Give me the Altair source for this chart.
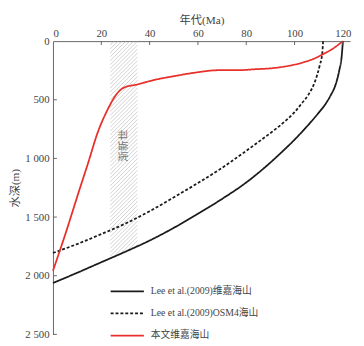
import altair as alt
import numpy as np
import pandas as pd

# ---- data ----
series_names = ["Lee et al.(2009)维嘉海山", "Lee et al.(2009)OSM4海山", "本文维嘉海山"]

black_age = [0, 10, 20, 30, 40, 50, 60, 70, 80, 90, 95, 100, 105, 110, 113, 115, 117, 118.5, 119.5, 120]
black_depth = [2062, 1975, 1885, 1795, 1700, 1592, 1472, 1345, 1205, 1035, 940, 840, 730, 610, 530, 460, 370, 250, 130, 0]

dash_age = [0, 10, 20, 30, 40, 51, 60, 70, 78, 85, 91.5, 95.5, 100, 103, 105.7, 108.4, 110.4, 111.5, 111.8]
dash_depth = [1806, 1730, 1645, 1555, 1450, 1320, 1210, 1080, 965, 860, 760, 693, 605, 530, 458, 347, 208, 97, 0]

red_age = [0, 5, 11, 14.5, 18.5, 22.6, 26.6, 29.3, 34.7, 41.5, 50.3, 59, 68.5, 76.6, 83.4, 90, 94.2, 99, 103.6, 108, 111.8, 116, 120]
red_depth = [1958, 1653, 1264, 1042, 780, 585, 445, 397, 370, 333, 298, 268, 248, 248, 240, 232, 222, 205, 181, 150, 111, 62, 0]

x_ticks = [0, 20, 40, 60, 80, 100, 120]
y_ticks = [0, 500, 1000, 1500, 2000, 2500]

band_age = [23.7, 35.0]          # Oligocene band (Ma)
band_label = "渐新世"
band_label_pos = [29.35, 890]

X_DOMAIN = [0, 123]
Y_DOMAIN = [0, 2500]
W, H = 304, 300

# ---- tables ----
lines = pd.concat([
    pd.DataFrame({"age": black_age, "depth": black_depth, "series": series_names[0]}),
    pd.DataFrame({"age": dash_age, "depth": dash_depth, "series": series_names[1]}),
    pd.DataFrame({"age": red_age, "depth": red_depth, "series": series_names[2]}),
], ignore_index=True)

# hatch segments for the band, clipped above the black curve
sx = W / (X_DOMAIN[1] - X_DOMAIN[0])
sy = H / (Y_DOMAIN[1] - Y_DOMAIN[0])
x0p, x1p = band_age[0] * sx, band_age[1] * sx
b0p = np.interp(band_age[0], black_age, black_depth) * sy
b1p = np.interp(band_age[1], black_age, black_depth) * sy
m = (b1p - b0p) / (x1p - x0p)
segs = []
for c in np.arange(x0p, x1p + b0p + 10, 4.0):
    # line: py = c - px ("/" on screen); keep 0 <= py <= bottom(px)
    lo = max(x0p, (c - b0p + m * x0p) / (1 + m))
    hi = min(x1p, c)
    if hi > lo:
        segs.append({"age": lo / sx, "age2": hi / sx,
                     "depth": (c - lo) / sy, "depth2": (c - hi) / sy})
hatch = pd.DataFrame(segs)

xs = alt.Scale(domain=X_DOMAIN, nice=False, zero=False)
ys = alt.Scale(domain=Y_DOMAIN, nice=False, reverse=True, zero=False)

SERIF = "Liberation Serif, Noto Sans CJK SC"

x_axis = alt.Axis(orient="top", values=x_ticks, title="年代(Ma)", tickSize=0,
                  labelPadding=3, titlePadding=2, grid=False)
y_axis = alt.Axis(values=y_ticks, title="水深(m)", tickSize=0, labelPadding=4,
                  titlePadding=4, grid=False,
                  labelExpr="replace(format(datum.value, ','), ',', ' ')")

hatch_layer = alt.Chart(hatch).mark_rule(color="#b4b4b4", strokeWidth=0.6).encode(
    x=alt.X("age:Q", scale=xs, axis=x_axis), x2="age2:Q",
    y=alt.Y("depth:Q", scale=ys, axis=y_axis), y2="depth2:Q",
)

band_text = alt.Chart(pd.DataFrame({"age": [band_label_pos[0]], "depth": [band_label_pos[1]],
                                    "t": [band_label]})).mark_text(
    angle=270, align="center", baseline="middle", fontSize=11, color="#777",
    font=SERIF,
).encode(
    x=alt.X("age:Q", scale=xs, axis=x_axis),
    y=alt.Y("depth:Q", scale=ys, axis=y_axis),
    text="t:N",
)

line_layer = alt.Chart(lines).mark_line(interpolate="monotone", strokeWidth=1.8).encode(
    x=alt.X("age:Q", scale=xs, axis=x_axis),
    y=alt.Y("depth:Q", scale=ys, axis=y_axis),
    color=alt.Color("series:N",
                    scale=alt.Scale(domain=series_names, range=["#1a1a1a", "#1a1a1a", "#e8302a"]),
                    legend=alt.Legend(orient="none", legendX=58, legendY=250, title=None,
                                      symbolType="stroke", symbolSize=1156,
                                      symbolStrokeWidth=1.8, clipHeight=12, rowPadding=10.6,
                                      labelOffset=6, labelFont=SERIF, labelFontSize=10,
                                      labelColor="#444", padding=0, labelLimit=300)),
    strokeDash=alt.StrokeDash("series:N",
                              scale=alt.Scale(domain=series_names,
                                              range=[[1, 0], [3, 2], [1, 0]])),
)

xtick_layer = alt.Chart(pd.DataFrame({"age": x_ticks[1:]})).mark_rule(color="#666").encode(
    x=alt.X("age:Q", scale=xs, axis=x_axis), y=alt.value(0), y2=alt.value(4),
)
ytick_layer = alt.Chart(pd.DataFrame({"depth": y_ticks[1:]})).mark_rule(color="#666").encode(
    y=alt.Y("depth:Q", scale=ys, axis=y_axis), x=alt.value(0), x2=alt.value(4),
)

chart = alt.layer(hatch_layer, band_text, line_layer, xtick_layer, ytick_layer).properties(
    width=W, height=H,
    autosize=alt.AutoSizeParams(type="none"),
    padding={"left": 46, "top": 30, "right": 6, "bottom": 8},
).configure_view(stroke=None).configure_axis(
    domainColor="#666", domainWidth=1,
    labelColor="#444", titleColor="#444",
    labelFont="Liberation Serif", labelFontSize=11,
    titleFont=SERIF, titleFontSize=11.5, titleFontWeight="normal",
)

chart.save("out.html", embed_options={"renderer": "svg", "actions": False})
